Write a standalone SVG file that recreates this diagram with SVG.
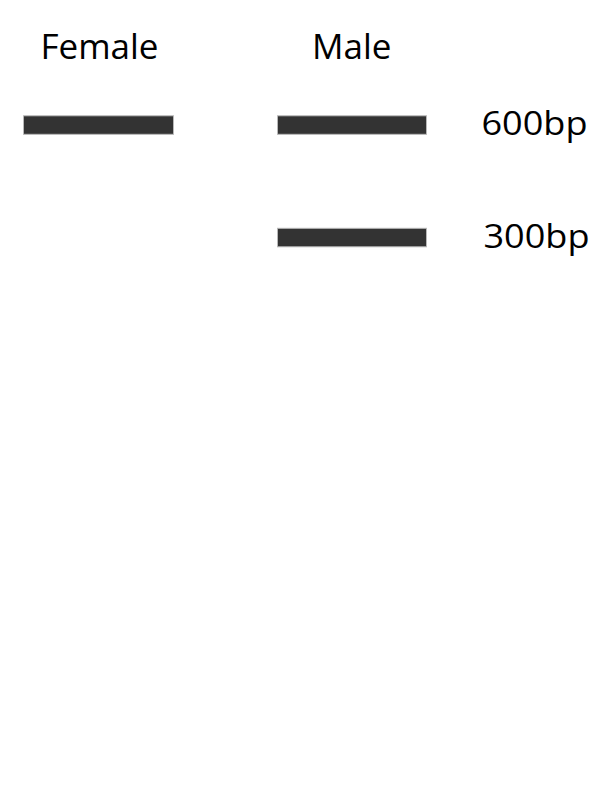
<svg xmlns="http://www.w3.org/2000/svg" width="612" height="792" viewBox="0 0 612 792">
<style>
.lbl{font-family:"Open Sans","Noto Sans","Liberation Sans",sans-serif;fill:#000;text-anchor:middle}
.head{font-size:35px}
.bp{font-size:33px}
.band{fill:#333333;stroke:#b8b8b8;stroke-width:1}
</style>
<rect x="0" y="0" width="612" height="792" fill="#ffffff"/>
<g id="female">
<text class="lbl head" x="99.5" y="59.3">Female</text>
<rect class="band" x="23.5" y="115.8" width="150" height="18.5"/>
</g>
<g id="male">
<text class="lbl head" x="351.7" y="59.3">Male</text>
<rect class="band" x="277.5" y="115.8" width="149" height="18.5"/>
<rect class="band" x="277.5" y="228.3" width="149" height="18.5"/>
</g>
<g id="markers">
<text class="lbl bp" x="534.5" y="135" textLength="106" lengthAdjust="spacingAndGlyphs">600bp</text>
<text class="lbl bp" x="536.5" y="247.7" textLength="106" lengthAdjust="spacingAndGlyphs">300bp</text>
</g>
<g id="connectors"></g>
</svg>
